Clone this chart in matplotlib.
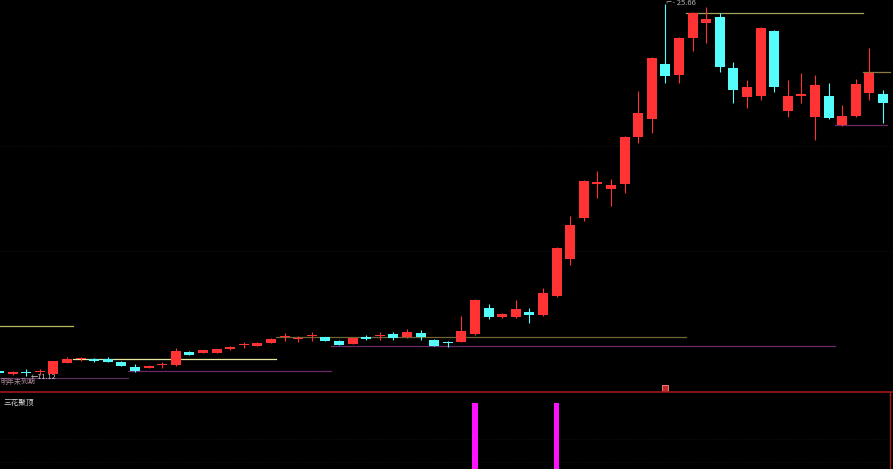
import numpy as np
import matplotlib
matplotlib.use("Agg")
import matplotlib.pyplot as plt

plt.rcParams['font.family'] = ['Noto Sans CJK SC', 'DejaVu Sans']

# 日K数据 (开, 高, 低, 收)
opens = [11.31, 11.20, 11.25, 11.26, 11.20, 11.63, 11.77, 11.78, 11.78, 11.67,
         11.47, 11.43, 11.54, 11.55, 12.06, 12.02, 12.02, 12.17, 12.32, 12.29,
         12.41, 12.63, 12.55, 12.67, 12.64, 12.49, 12.37, 12.64, 12.67, 12.76,
         12.64, 12.80, 12.53, 12.45, 12.45, 12.76, 13.78, 13.42, 13.42, 13.62,
         13.50, 14.25, 15.69, 17.30, 18.62, 18.43, 18.62, 20.46, 21.17, 23.31,
         22.89, 24.33, 24.92, 25.15, 23.16, 22.02, 22.06, 24.60, 21.48, 22.06,
         21.24, 22.06, 20.93, 21.28, 22.18, 22.14]
highs = [11.33, 11.31, 11.39, 11.39, 11.72, 11.86, 11.84, 11.82, 11.84, 11.69,
         11.60, 11.53, 11.67, 12.21, 12.08, 12.15, 12.19, 12.27, 12.45, 12.45,
         12.60, 12.80, 12.68, 12.84, 12.66, 12.53, 12.62, 12.72, 12.84, 12.84,
         12.96, 12.92, 12.55, 12.47, 13.46, 14.13, 13.93, 13.56, 14.09, 13.78,
         14.56, 16.16, 17.37, 18.78, 19.13, 18.82, 20.50, 22.26, 23.59, 25.66,
         24.37, 25.35, 25.54, 25.31, 23.39, 22.69, 24.76, 24.64, 22.69, 22.96,
         22.89, 22.57, 21.71, 22.73, 23.94, 22.30]
lows = [11.20, 11.17, 11.12, 11.16, 11.18, 11.61, 11.72, 11.68, 11.65, 11.49,
        11.29, 11.41, 11.41, 11.51, 11.92, 12.00, 12.00, 12.15, 12.21, 12.27,
        12.39, 12.49, 12.45, 12.49, 12.47, 12.31, 12.35, 12.54, 12.53, 12.53,
        12.62, 12.53, 12.27, 12.25, 12.43, 12.72, 13.35, 13.40, 13.40, 13.19,
        13.46, 14.21, 15.46, 17.18, 18.08, 17.77, 18.27, 20.23, 20.60, 22.57,
        22.57, 23.82, 24.14, 23.00, 21.79, 21.59, 21.91, 22.22, 21.24, 21.79,
        20.34, 21.17, 20.90, 21.24, 21.91, 21.01]
closes = [11.24, 11.27, 11.23, 11.28, 11.70, 11.78, 11.79, 11.70, 11.67, 11.51,
          11.31, 11.51, 11.56, 12.09, 11.94, 12.13, 12.17, 12.25, 12.34, 12.41,
          12.56, 12.65, 12.57, 12.69, 12.49, 12.33, 12.60, 12.56, 12.69, 12.60,
          12.84, 12.64, 12.29, 12.41, 12.88, 14.09, 13.42, 13.54, 13.74, 13.50,
          14.36, 16.12, 17.02, 18.74, 18.70, 18.58, 20.46, 21.40, 23.55, 22.85,
          24.33, 25.31, 25.07, 23.20, 22.30, 22.42, 24.72, 22.42, 22.06, 22.14,
          22.49, 21.20, 21.28, 22.53, 22.96, 21.79]

# 支撑/压力线段 (起点, 终点, 价位)
upper_lines = [(0.07, 5.44, 13.07, '#b8b860'), (5.44, 20.4, 11.78, '#e6e6a0'),
               (20.4, 50.5, 12.66, '#706432'), (50.5, 63.5, 25.31, '#a0a058'),
               (63.5, 65.5, 23.00, '#8a7a40')]
lower_lines = [(0.07, 9.5, 11.04, '#5a2a5a'), (9.5, 24.4, 11.31, '#6a2a6a'),
               (24.4, 61.5, 12.29, '#6a2a6a'), (61.5, 65.3, 20.95, '#6a2a6a')]

# 副图信号
signal_idx = [35, 41]
signal_val = [1, 1]

n = len(opens)
idx = np.arange(n)

fig = plt.figure(figsize=(8.93, 4.69), dpi=100, facecolor='black')
ax = fig.add_axes([0, 77 / 469, 1, 392 / 469], facecolor='black')
ax2 = fig.add_axes([0, 0, 1, 77 / 469], facecolor='black')

red = '#ff3333'
cyan = '#54fcfc'

for p in [20.11, 16.00]:
    ax.axhline(p, color='#161616', lw=0.7, ls=(0, (1, 2)), zorder=0)

for x0, x1, p, c in upper_lines:
    ax.plot([x0, x1], [p, p], color=c, lw=0.9, zorder=1)
for x0, x1, p, c in lower_lines:
    ax.plot([x0, x1], [p, p], color=c, lw=0.9, zorder=1)

w = 0.735
for i in idx:
    o, h, l, c = opens[i], highs[i], lows[i], closes[i]
    col = red if c >= o else cyan
    ax.vlines(i, l, h, color=col, lw=0.8, zorder=2)
    bottom = min(o, c)
    height = max(abs(c - o), 0.045)
    ax.bar(i, height, w, bottom=bottom, color=col, lw=0, zorder=3)

ax.text(2.35, 11.09, '←11.12', color='#c8c8c8', fontsize=5.2, va='center', ha='left')
ax.text(49.05, 25.70, '⌐- 25.66', color='#b0b0b0', fontsize=5.5, va='center', ha='left')
ax.text(0.1, 10.90, '明年未到期', color='#b08a9a', fontsize=5, va='center', ha='left')
ax.plot(49.0, 10.63, marker='s', ms=4, color='#c02828', mec='#ff9090', mew=0.6)

ax.set_xlim(0.0735, 65.735)
ax.set_ylim(10.49, 25.82)
ax.axis('off')

for p in [0.45, 0.1]:
    ax2.axhline(p, color='#141414', lw=0.7, ls=(0, (1, 2)), zorder=0)
ax2.bar(signal_idx, signal_val, 0.37, color='#ff10ff', lw=0, zorder=2)
ax2.axhline(1.167, color='#a01818', lw=1.2, clip_on=False)
ax2.axvline(65.515, color='#a01818', lw=1.0)
ax2.text(0.3, 1.0, '三花聚顶', color='#d8d8d8', fontsize=5.5, va='center', ha='left')
ax2.set_xlim(0.0735, 65.735)
ax2.set_ylim(0, 1.167)
ax2.axis('off')

fig.savefig('out.png', dpi=100, facecolor='black')
